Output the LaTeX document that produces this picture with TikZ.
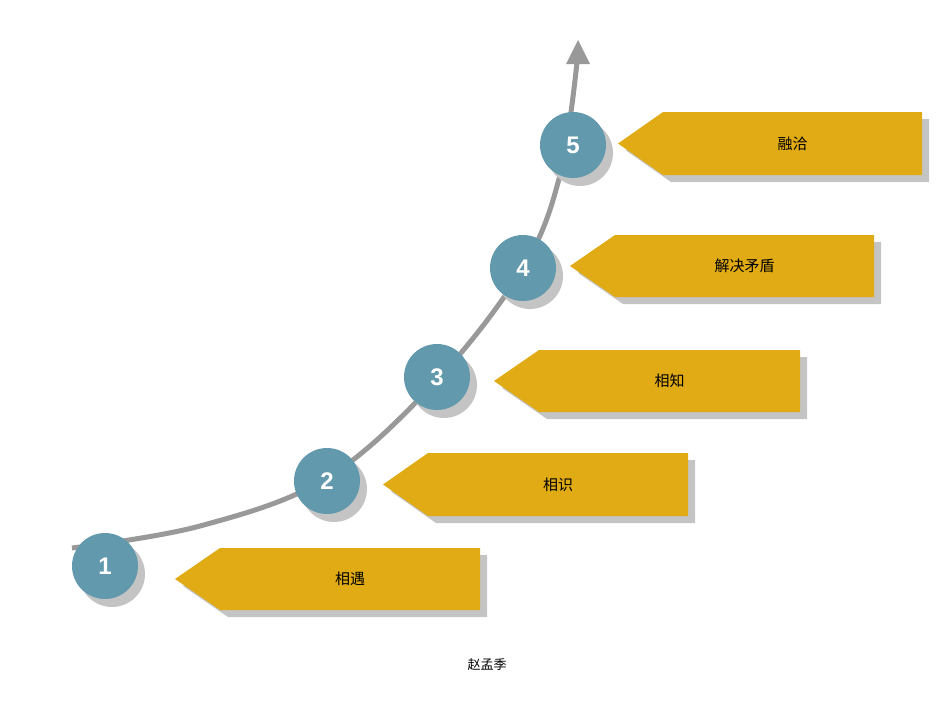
\documentclass[tikz,border=0pt]{standalone}
\usepackage{fontspec}
\setmainfont{Liberation Sans}
\newfontfamily\cjk{Noto Sans CJK SC}
\definecolor{stepgold}{HTML}{E0AB15}
\definecolor{stepteal}{HTML}{6399AD}
\definecolor{shadowgray}{HTML}{C4C4C4}
\begin{document}
\begin{tikzpicture}[x=1pt,y=-1pt,
  numcircle/.style={circle,fill=stepteal,minimum size=66pt,inner sep=0pt,text=white,font=\bfseries\fontsize{24}{24}\selectfont},
  labeltext/.style={font=\cjk\fontsize{15}{15}\selectfont,text=black}]
\useasboundingbox (0,0) rectangle (950,713);
% curve
\draw[line width=5pt,color=gray!80] plot[smooth,tension=0.6] coordinates {(72,548) (200,526) (327,478) (437,380) (523,268) (560,175) (577,62)};
\fill[gray!80] (566,64) -- (578,40) -- (590,64) -- cycle;
% shadows and circles
\foreach \n/\x/\y in {1/105/566,2/327/481,3/437/377,4/523/268,5/573/145}{
  \fill[shadowgray] (\x+7,\y+8) circle (33);
  \node[numcircle] (c\n) at (\x,\y) {\n};
}
% arrow boxes
\foreach \n/\l/\r/\t/\b/\txt in {1/175/480/548/610/相遇,2/383/688/453/516/相识,3/494/800/350/412/相知,4/570/874/235/297/解决矛盾,5/618/922/112/175/融洽}{
  \fill[shadowgray] (\l+8,{(\t+\b)/2+7}) -- (\l+53,\t+7) -- (\r+7,\t+7) -- (\r+7,\b+7) -- (\l+53,\b+7) -- cycle;
  \fill[stepgold] (\l,{(\t+\b)/2}) -- (\l+45,\t) -- (\r,\t) -- (\r,\b) -- (\l+45,\b) -- cycle;
  \node[labeltext] (t\n) at ({(\l+\r)/2+(\l+45-\l)/2},{(\t+\b)/2}) {\txt};
}
\node[font=\cjk\fontsize{13}{13}\selectfont] (cap) at (487,665) {赵孟季};
\end{tikzpicture}
\end{document}
